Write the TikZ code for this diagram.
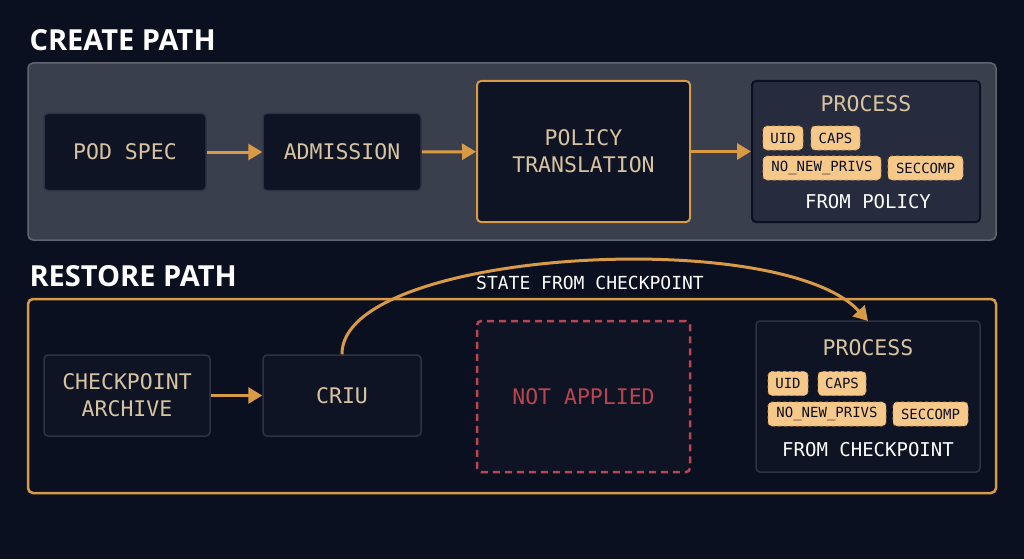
\documentclass[tikz,border=0pt]{standalone}
\usepackage{fontspec}
\setmainfont{DejaVu Sans}
\newfontfamily\monof{DejaVu Sans Mono}
\newfontfamily\titf{Open Sans}
\usetikzlibrary{arrows.meta}
\definecolor{bg}{HTML}{0B1020}
\definecolor{org}{HTML}{D99A45}
\definecolor{beige}{HTML}{D8C3A0}
\definecolor{panel}{HTML}{3A3F4E}
\definecolor{boxf}{HTML}{0E1424}
\definecolor{boxb}{HTML}{2C3344}
\definecolor{procf}{HTML}{262C3E}
\definecolor{chip}{HTML}{F6C98A}
\definecolor{red}{HTML}{B8454F}
\begin{document}
\begin{tikzpicture}[x=1pt,y=-1pt,
 box/.style={draw=boxb,line width=1.5pt,fill=boxf,rounded corners=4pt},
 lbl/.style={text=beige,font=\monof\fontsize{21.5}{27}\selectfont,align=center},
 chipS/.style={draw=org,dashed,line width=0.8pt,fill=chip,rounded corners=4pt,inner sep=0pt,minimum height=24pt,text=bg,font=\monof\fontsize{14}{16}\selectfont},
 arr/.style={org,line width=3pt,-{Triangle[length=14pt,width=16pt]}},
 ttl/.style={text=white,font=\titf\bfseries\fontsize{29}{32}\selectfont,anchor=west}]
\fill[bg] (0,0) rectangle (1024,559);
\node[ttl] (t1) at (26,40) {CREATE PATH};
\draw[fill=panel,draw=panel!80!white,line width=1.5pt,rounded corners=5pt] (28,63) rectangle (996,240);
\node[box,minimum width=162pt,minimum height=77pt,lbl] (pod) at (125,152) {POD SPEC};
\node[box,minimum width=158pt,minimum height=77pt,lbl] (adm) at (342,152) {ADMISSION};
\node[box,draw=org,line width=2pt,minimum width=213pt,minimum height=141pt,lbl] (pol) at (583.5,151.5) {POLICY\\TRANSLATION};
\node[box,draw=bg,line width=2pt,fill=procf,minimum width=228pt,minimum height=141pt] (p1) at (866,151.5) {};
\draw[arr] (pod) -- (adm);
\draw[arr] (adm) -- (pol);
\draw[arr] (pol) -- (p1);
\node[lbl] (p1t) at (866,104) {PROCESS};
\node[chipS,minimum width=40pt] (c1) at (783,138) {UID};
\node[chipS,minimum width=49pt] (c2) at (835.5,138) {CAPS};
\node[chipS,minimum width=118pt] (c3) at (822,168) {NO\_NEW\_PRIVS};
\node[chipS,minimum width=75pt] (c4) at (925.5,168) {SECCOMP};
\node[text=white,font=\monof\fontsize{19}{22}\selectfont] (p1b) at (868,202) {FROM POLICY};
\node[ttl] (t2) at (26,276) {RESTORE PATH};
\draw[org,line width=2.5pt,rounded corners=5pt] (28,299) rectangle (996,493);
\node[box,minimum width=166pt,minimum height=81pt,lbl] (ck) at (127,395.5) {CHECKPOINT\\ARCHIVE};
\node[box,minimum width=158pt,minimum height=81pt,lbl] (cr) at (342,395.5) {CRIU};
\node[box,draw=red,dashed,dash pattern=on 7pt off 5pt,line width=2.5pt,minimum width=213pt,minimum height=151pt,text=red,font=\monof\fontsize{21.5}{24}\selectfont] (na) at (583.5,396.5) {NOT APPLIED};
\node[box,fill=boxf,minimum width=224pt,minimum height=151pt] (p2) at (868,396.5) {};
\draw[arr] (ck) -- (cr);
\coordinate (tgt) at (868,321);
\draw[arr] (cr.north) .. controls (341,250) and (780,225) .. (tgt);
\node[text=white,font=\monof\fontsize{18}{20}\selectfont] (st) at (590,283) {STATE FROM CHECKPOINT};
\node[lbl] (p2t) at (868,348) {PROCESS};
\node[chipS,minimum width=40pt] (d1) at (788,383.5) {UID};
\node[chipS,minimum width=48pt] (d2) at (842,383.5) {CAPS};
\node[chipS,minimum width=118pt] (d3) at (827,414) {NO\_NEW\_PRIVS};
\node[chipS,minimum width=75pt] (d4) at (930.5,414) {SECCOMP};
\node[text=white,font=\monof\fontsize{19}{22}\selectfont] (p2b) at (868,450) {FROM CHECKPOINT};
\end{tikzpicture}
\end{document}
